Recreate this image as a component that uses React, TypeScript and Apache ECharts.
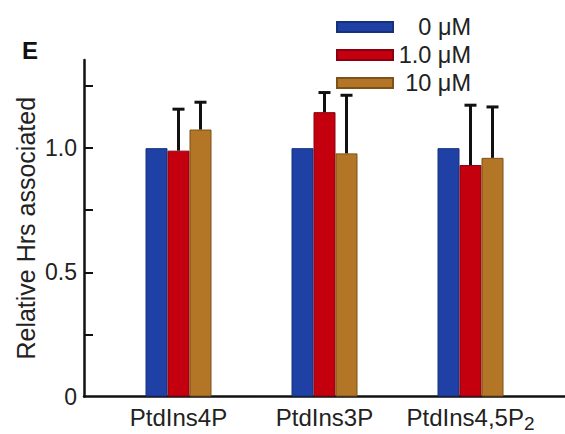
import React, { useEffect, useRef } from 'react';
import * as echarts from 'echarts';

const categories = ['PtdIns4P', 'PtdIns3P', 'PtdIns4,5P2'];
const seriesNames = ['0 μM', '1.0 μM', '10 μM'];
const control = [1.0, 1.0, 1.0];
const lowDose = [0.99, 1.145, 0.932];
const highDose = [1.075, 0.979, 0.961];
const lowDoseSd = [0.167, 0.079, 0.241];
const highDoseSd = [0.11, 0.234, 0.205];
const yTickValues = [0.25, 0.5, 0.75, 1.0, 1.25];
const yLabelValues = [0, 0.5, 1.0];

const FONT = '"Liberation Sans", Arial, Helvetica, sans-serif';
const BAR_W = 22;
const COLORS = ['#1f41a6', '#c4000e', '#b37526'];
const BORDERS = ['#16307a', '#8a0010', '#7d5118'];

function errorSeries(values: number[], sds: number[], offset: number) {
  return {
    type: 'custom',
    xAxisIndex: 1,
    yAxisIndex: 1,
    z: 5,
    data: values.map((v, i) => [i, v, v + sds[i]]),
    encode: { x: 0, y: [1, 2] },
    renderItem: (params: any, api: any) => {
      const cat = api.value(0);
      const base = api.coord([cat, api.value(1)]);
      const top = api.coord([cat, api.value(2)]);
      const x = base[0] + offset;
      return {
        type: 'group',
        children: [
          { type: 'line', shape: { x1: x, y1: base[1], x2: x, y2: top[1] }, style: { stroke: '#111', lineWidth: 3 } },
          { type: 'line', shape: { x1: x - 6, y1: top[1], x2: x + 6, y2: top[1] }, style: { stroke: '#111', lineWidth: 3 } },
        ],
      };
    },
  };
}

export default function App() {
  const ref = useRef<HTMLDivElement>(null);
  useEffect(() => {
    if (!ref.current) return;
    const chart = echarts.init(ref.current, undefined, { renderer: 'svg' });
    const yMax = 1.355;
    const barData = [control, lowDose, highDose];
    chart.setOption({
      animation: false,
      backgroundColor: '#ffffff',
      textStyle: { fontFamily: FONT },
      grid: [
        { left: 84, right: 0, top: 60, bottom: 37.5 },
        { left: 105.5, right: 21.5, top: 60, bottom: 37.5 },
      ],
      legend: {
        orient: 'vertical',
        left: 336,
        top: 15,
        padding: 0,
        itemWidth: 56,
        itemHeight: 10,
        itemGap: 4,
        icon: 'rect',
        data: seriesNames,
        formatter: (name: string) => `{a|${name}}`,
        textStyle: {
          rich: {
            a: { width: 73, align: 'right', fontSize: 23.5, color: '#222', fontFamily: FONT },
          },
        },
      },
      xAxis: [
        {
          gridIndex: 0,
          type: 'value',
          min: 0,
          max: 1,
          axisLine: { show: true, lineStyle: { color: '#111', width: 2.5 } },
          axisTick: { show: false },
          axisLabel: { show: false },
          splitLine: { show: false },
        },
        {
          gridIndex: 1,
          type: 'category',
          data: categories,
          axisLine: { show: false },
          axisTick: { show: false },
          axisLabel: {
            interval: 0,
            margin: 9,
            fontSize: 24,
            color: '#222',
            fontFamily: FONT,
            formatter: (v: string) => v.replace(/P2$/, 'P{s|2}'),
            rich: {
              s: { fontSize: 19, color: '#222', fontFamily: FONT, verticalAlign: 'bottom', padding: [0, 0, -3, 0] },
            },
          },
        },
      ],
      yAxis: [
        {
          gridIndex: 0,
          type: 'value',
          min: 0,
          max: yMax,
          axisLine: { show: true, lineStyle: { color: '#111', width: 2.5 } },
          axisTick: { show: true, inside: true, length: 9, customValues: yTickValues, lineStyle: { color: '#111', width: 2 } },
          axisLabel: {
            customValues: yLabelValues,
            margin: 7,
            fontSize: 23,
            color: '#222',
            fontFamily: FONT,
            formatter: (v: number) => (v === 0 ? '0' : v.toFixed(1)),
          },
          splitLine: { show: false },
          name: 'Relative Hrs associated',
          nameLocation: 'middle',
          nameGap: 46,
          nameMoveOverlap: false,
          nameTextStyle: { fontSize: 25, color: '#222', fontFamily: FONT },
        },
        { gridIndex: 1, type: 'value', min: 0, max: yMax, show: false },
      ],
      graphic: [
        { type: 'text', left: 22, top: 38, style: { text: 'E', fontSize: 24, fontWeight: 'bold', fill: '#111', fontFamily: FONT } },
      ],
      series: [
        ...barData.map((d, k) => ({
          name: seriesNames[k],
          type: 'bar',
          xAxisIndex: 1,
          yAxisIndex: 1,
          data: d,
          barWidth: BAR_W,
          barGap: '0%',
          itemStyle: { color: COLORS[k], borderColor: BORDERS[k], borderWidth: 1 },
        })),
        errorSeries(lowDose, lowDoseSd, 0),
        errorSeries(highDose, highDoseSd, BAR_W),
      ],
    });
    return () => chart.dispose();
  }, []);
  return <div ref={ref} style={{ position: 'fixed', left: 0, top: 0, width: 565, height: 434 }} />;
}
